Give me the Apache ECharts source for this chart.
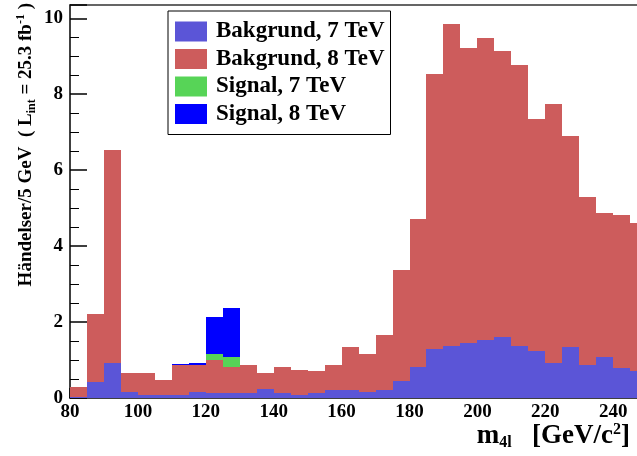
<!DOCTYPE html>
<html>
<head>
<meta charset="utf-8">
<script src="https://cdn.jsdelivr.net/npm/echarts@6/dist/echarts.min.js"></script>
<style>
  html, body { margin: 0; padding: 0; background: #fff; }
  #chart { width: 637px; height: 456px; }
</style>
</head>
<body>
<div id="chart"></div>
<script>
// lower edge of each 5 GeV bin
const binLow = [80, 85, 90, 95, 100, 105, 110, 115, 120, 125, 130, 135, 140, 145, 150, 155, 160,
  165, 170, 175, 180, 185, 190, 195, 200, 205, 210, 215, 220, 225, 230, 235, 240, 245];
const binWidth = 5;

const bkg7 = [0.03, 0.43, 0.93, 0.15, 0.09, 0.09, 0.07, 0.17, 0.12, 0.14, 0.12, 0.24, 0.12, 0.09, 0.13, 0.20, 0.20,
  0.15, 0.21, 0.46, 0.81, 1.28, 1.38, 1.44, 1.54, 1.61, 1.38, 1.23, 0.93, 1.33, 0.88, 1.08, 0.78, 0.71];
const bkg8 = [0.27, 1.78, 5.61, 0.51, 0.57, 0.39, 0.80, 0.69, 0.89, 0.68, 0.74, 0.43, 0.70, 0.64, 0.57, 0.68, 1.13,
  1.02, 1.46, 2.90, 3.91, 7.26, 8.48, 7.77, 7.95, 7.52, 7.39, 6.13, 6.82, 5.58, 4.42, 3.80, 4.05, 3.91];
const sig7 = [0, 0, 0, 0, 0, 0, 0, 0, 0.16, 0.25, 0, 0, 0, 0, 0, 0, 0,
  0, 0, 0, 0, 0, 0, 0, 0, 0, 0, 0, 0, 0, 0, 0, 0, 0];
const sig8 = [0, 0, 0, 0, 0, 0, 0.03, 0.05, 0.97, 1.30, 0, 0, 0, 0, 0, 0, 0,
  0, 0, 0, 0, 0, 0, 0, 0, 0, 0, 0, 0, 0, 0, 0, 0, 0];

const yTicks = [0, 2, 4, 6, 8, 10];
const xTicks = [80, 100, 120, 140, 160, 180, 200, 220, 240];

const layers = [
  { name: "Bakgrund, 7 TeV", values: bkg7, color: "#5b55d7" },
  { name: "Bakgrund, 8 TeV", values: bkg8, color: "#cd5c5c" },
  { name: "Signal, 7 TeV", values: sig7, color: "#57d457" },
  { name: "Signal, 8 TeV", values: sig8, color: "#0000ff" }
];

const font = "'Liberation Serif', 'Times New Roman', serif";

// stack the layers bin by bin
const base = binLow.map(() => 0);
const series = layers.map(layer => {
  const data = binLow.map((x, i) => {
    const lo = base[i];
    base[i] += layer.values[i];
    return [x, lo, base[i]];
  });
  return {
    name: layer.name,
    type: "custom",
    itemStyle: { color: layer.color },
    encode: { x: 0, y: [1, 2] },
    data: data,
    renderItem: function (params, api) {
      if (api.value(2) - api.value(1) <= 0) return null;
      const p0 = api.coord([api.value(0), api.value(2)]);
      const p1 = api.coord([api.value(0) + binWidth, api.value(1)]);
      // snap to whole pixels so neighbouring bins meet without seams
      const x0 = Math.round(p0[0]), x1 = Math.round(p1[0]);
      const y0 = Math.round(p0[1]), y1 = Math.round(p1[1]);
      const rect = echarts.graphic.clipRectByRect(
        { x: x0, y: y0, width: x1 - x0, height: y1 - y0 },
        params.coordSys
      );
      if (!rect) return null;
      return { type: "rect", shape: rect, style: { fill: layer.color } };
    }
  };
});

const chart = echarts.init(document.getElementById("chart"));
chart.setOption({
  animation: false,
  backgroundColor: "#fff",
  grid: { left: 70, right: 0, top: 5, bottom: 58 },
  legend: {
    orient: "vertical",
    left: 168,
    top: 11,
    padding: [9, 6, 9, 7],
    itemWidth: 32,
    itemHeight: 20,
    itemGap: 4.5,
    icon: "rect",
    borderColor: "#000",
    borderWidth: 1,
    backgroundColor: "#fff",
    data: layers.map(l => l.name),
    textStyle: { fontFamily: font, fontWeight: "bold", fontSize: 23, lineHeight: 20, color: "#000", padding: [0, 0, 0, 4] }
  },
  xAxis: [{
    type: "value",
    min: 80,
    max: 247,
    interval: 20,
    axisLine: { lineStyle: { color: "#000", width: 1.5 } },
    axisTick: { inside: true, length: 10, lineStyle: { color: "#000", width: 1.5 } },
    minorTick: { show: true, splitNumber: 4, length: 5, lineStyle: { color: "#000", width: 1 } },
    splitLine: { show: false },
    axisLabel: {
      showMaxLabel: false,
      margin: 5,
      fontFamily: font, fontWeight: "bold", fontSize: 19, color: "#000",
      formatter: v => (xTicks.indexOf(v) >= 0 ? String(v) : "")
    }
  }, {
    type: "value",
    position: "top",
    min: 80,
    max: 247,
    axisLine: { show: true, onZero: false, lineStyle: { color: "#333", width: 1.5 } },
    axisTick: { show: false },
    axisLabel: { show: false },
    splitLine: { show: false }
  }],
  yAxis: {
    type: "value",
    min: 0,
    max: 10.35,
    interval: 2,
    axisLine: { show: true, lineStyle: { color: "#000", width: 1.5 } },
    axisTick: { inside: true, length: 17, lineStyle: { color: "#000", width: 1.5 } },
    minorTick: { show: true, splitNumber: 4, length: 9, lineStyle: { color: "#000", width: 1 } },
    splitLine: { show: false },
    axisLabel: {
      showMaxLabel: false,
      margin: 7,
      fontFamily: font, fontWeight: "bold", fontSize: 19, color: "#000",
      formatter: v => (yTicks.indexOf(v) >= 0 ? String(v) : "")
    }
  },
  graphic: [
    {
      type: "text",
      x: 26,
      y: 3,
      rotation: Math.PI / 2,
      style: {
        text: "Händelser/5 GeV  ( L{sub|int} = 25.3 fb{sup|-1} )",
        fontFamily: font, fontWeight: "bold", fontSize: 19, fill: "#000",
        align: "right", verticalAlign: "middle",
        rich: {
          sub: { fontFamily: font, fontWeight: "bold", fontSize: 12, padding: [11, 0, 0, 0] },
          sup: { fontFamily: font, fontWeight: "bold", fontSize: 12, padding: [0, 0, 10, 0] }
        }
      }
    },
    {
      type: "text",
      right: 7,
      top: 422,
      style: {
        text: "m{sub|4l}   [GeV/c{sup|2}]",
        fontFamily: font, fontWeight: "bold", fontSize: 27, fill: "#000",
        rich: {
          sub: { fontFamily: font, fontWeight: "bold", fontSize: 16, padding: [13, 0, 0, 0] },
          sup: { fontFamily: font, fontWeight: "bold", fontSize: 16, padding: [0, 0, 13, 0] }
        }
      }
    }
  ],
  series: series
});
</script>
</body>
</html>
